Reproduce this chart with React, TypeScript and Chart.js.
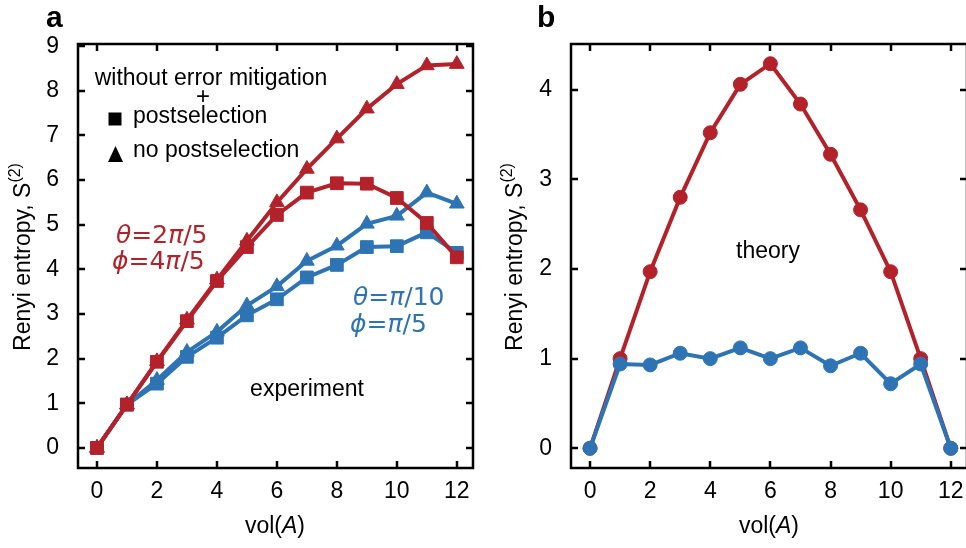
import React, { useEffect, useRef } from 'react';
import { Chart, registerables } from 'chart.js';
Chart.register(...registerables);

// ---------- data ----------
const vol = [0, 1, 2, 3, 4, 5, 6, 7, 8, 9, 10, 11, 12];
// panel a (experiment)
const redPostA = [0, 0.97, 1.93, 2.84, 3.74, 4.5, 5.22, 5.72, 5.93, 5.92, 5.6, 5.04, 4.27];
const redNoPostA = [0, 0.97, 1.94, 2.87, 3.77, 4.64, 5.5, 6.25, 6.93, 7.6, 8.15, 8.57, 8.6];
const bluePostA = [0, 0.97, 1.44, 2.04, 2.47, 2.97, 3.33, 3.82, 4.1, 4.5, 4.52, 4.83, 4.37];
const blueNoPostA = [0, 0.97, 1.52, 2.15, 2.6, 3.19, 3.62, 4.19, 4.53, 5.02, 5.2, 5.72, 5.47];
// panel b (theory)
const redTheoryB = [0, 1, 1.97, 2.8, 3.52, 4.06, 4.29, 3.84, 3.28, 2.66, 1.97, 1, 0];
const blueTheoryB = [0, 0.94, 0.93, 1.06, 1.0, 1.12, 1.0, 1.12, 0.92, 1.06, 0.72, 0.94, 0];
// ticks
const xTickVals = [0, 2, 4, 6, 8, 10, 12];
const yTickValsA = [0, 1, 2, 3, 4, 5, 6, 7, 8, 9];
const yTickValsB = [0, 1, 2, 3, 4];

const RED = '#B3222B';
const BLUE = '#2E74B5';
const FONT = '"Liberation Sans", Arial, sans-serif';
const GFONT = '"DejaVu Sans", sans-serif';

type Seg = { t: string; font: string; dy?: number };
type TextItem = { segs: Seg[]; x: number; y: number; align: 'left' | 'center'; color: string; rotate?: boolean };
type Marker = { kind: 'square' | 'triangle'; x: number; y: number };

function drawSegs(ctx: CanvasRenderingContext2D, item: TextItem, ox: number) {
  const widths = item.segs.map((s) => {
    ctx.font = s.font;
    return ctx.measureText(s.t).width;
  });
  const total = widths.reduce((a, b) => a + b, 0);
  ctx.save();
  ctx.fillStyle = item.color;
  ctx.textBaseline = 'alphabetic';
  ctx.textAlign = 'left';
  let cx: number;
  if (item.rotate) {
    ctx.translate(item.x - ox, item.y);
    ctx.rotate(-Math.PI / 2);
    cx = -total / 2;
    item.segs.forEach((s, i) => {
      ctx.font = s.font;
      ctx.fillText(s.t, cx, 7 + (s.dy || 0));
      cx += widths[i];
    });
  } else {
    cx = item.align === 'center' ? item.x - ox - total / 2 : item.x - ox;
    item.segs.forEach((s, i) => {
      ctx.font = s.font;
      ctx.fillText(s.t, cx, item.y + (s.dy || 0));
      cx += widths[i];
    });
  }
  ctx.restore();
}

function makeDecor(texts: TextItem[], markers: Marker[], ox: number, yTicks: number[]) {
  return {
    id: 'decor',
    afterDraw(chart: any) {
      const ctx: CanvasRenderingContext2D = chart.ctx;
      const { left, right, top, bottom } = chart.chartArea;
      const xs = chart.scales.x;
      const ys = chart.scales.y;
      ctx.save();
      ctx.strokeStyle = '#000';
      ctx.lineWidth = 2.5;
      ctx.strokeRect(left, top, right - left, bottom - top);
      const tl = 7;
      ctx.beginPath();
      xTickVals.forEach((v) => {
        const px = Math.round(xs.getPixelForValue(v));
        ctx.moveTo(px, bottom);
        ctx.lineTo(px, bottom - tl);
        ctx.moveTo(px, top);
        ctx.lineTo(px, top + tl);
      });
      yTicks.forEach((v) => {
        const py = Math.round(ys.getPixelForValue(v));
        ctx.moveTo(left, py);
        ctx.lineTo(left + tl, py);
        ctx.moveTo(right, py);
        ctx.lineTo(right - tl, py);
      });
      ctx.stroke();
      ctx.restore();
      texts.forEach((t) => drawSegs(ctx, t, ox));
      ctx.save();
      ctx.fillStyle = '#000';
      markers.forEach((m) => {
        const x = m.x - ox;
        ctx.beginPath();
        if (m.kind === 'square') {
          ctx.rect(x - 6.5, m.y - 6.5, 13, 13);
        } else {
          ctx.moveTo(x, m.y - 8);
          ctx.lineTo(x + 7.5, m.y + 8);
          ctx.lineTo(x - 7.5, m.y + 8);
          ctx.closePath();
        }
        ctx.fill();
      });
      ctx.restore();
    },
  };
}

function ds(label: string, data: number[], color: string, style: string, radius: number) {
  return {
    label,
    data: vol.map((v, i) => ({ x: v, y: data[i] })),
    borderColor: color,
    backgroundColor: color,
    pointBackgroundColor: color,
    pointBorderColor: color,
    pointBorderWidth: 1,
    pointStyle: style,
    pointRadius: radius,
    borderWidth: 4,
    tension: 0,
  };
}

function baseOptions(yMin: number, yMax: number, yTicks: number[], yWidth: number, padRight: number) {
  const tickFont = { family: FONT, size: 23 };
  return {
    animation: false,
    responsive: false,
    events: [],
    layout: { padding: { top: 44, right: padRight, left: 0, bottom: 0 }, autoPadding: false },
    plugins: { legend: { display: false }, tooltip: { enabled: false }, title: { display: false } },
    scales: {
      x: {
        type: 'linear',
        min: -0.633,
        max: 12.54,
        afterBuildTicks: (s: any) => {
          s.ticks = xTickVals.map((v) => ({ value: v }));
        },
        afterFit: (s: any) => {
          s.height = 80;
        },
        grid: { display: false },
        border: { display: false },
        ticks: { font: tickFont, color: '#000', padding: 2, maxRotation: 0, autoSkip: false },
      },
      y: {
        type: 'linear',
        min: yMin,
        max: yMax,
        afterBuildTicks: (s: any) => {
          s.ticks = yTicks.map((v) => ({ value: v }));
        },
        afterFit: (s: any) => {
          s.width = yWidth;
        },
        grid: { display: false },
        border: { display: false },
        ticks: { font: tickFont, color: '#000', padding: 11, autoSkip: false },
      },
    },
  };
}

const f23 = `23px ${FONT}`;
const f16 = `16px ${FONT}`;
const g25 = `25px ${GFONT}`;
const gi25 = `italic 25px ${GFONT}`;

function yTitle(x: number): TextItem {
  return {
    segs: [
      { t: 'Renyi entropy, S', font: f23 },
      { t: '(2)', font: f16, dy: -10 },
    ],
    x,
    y: 257,
    align: 'center',
    color: '#000',
    rotate: true,
  };
}
function xTitle(x: number): TextItem {
  return {
    segs: [
      { t: 'vol(', font: f23 },
      { t: 'A', font: `italic 23px ${FONT}` },
      { t: ')', font: f23 },
    ],
    x,
    y: 533,
    align: 'center',
    color: '#000',
  };
}

const textsA: TextItem[] = [
  { segs: [{ t: 'a', font: `bold 30px ${FONT}` }], x: 46, y: 27, align: 'left', color: '#000' },
  yTitle(23),
  xTitle(275),
  { segs: [{ t: 'without error mitigation', font: f23 }], x: 211, y: 85, align: 'center', color: '#000' },
  { segs: [{ t: '+', font: `24px ${FONT}` }], x: 203, y: 104, align: 'center', color: '#000' },
  { segs: [{ t: 'postselection', font: f23 }], x: 133, y: 123, align: 'left', color: '#000' },
  { segs: [{ t: 'no postselection', font: f23 }], x: 133, y: 157, align: 'left', color: '#000' },
  {
    segs: [
      { t: 'θ', font: gi25 },
      { t: '=2', font: g25 },
      { t: 'π', font: gi25 },
      { t: '/5', font: g25 },
    ],
    x: 116,
    y: 243,
    align: 'left',
    color: RED,
  },
  {
    segs: [
      { t: 'ϕ', font: gi25 },
      { t: '=4', font: g25 },
      { t: 'π', font: gi25 },
      { t: '/5', font: g25 },
    ],
    x: 112,
    y: 269,
    align: 'left',
    color: RED,
  },
  {
    segs: [
      { t: 'θ', font: gi25 },
      { t: '=', font: g25 },
      { t: 'π', font: gi25 },
      { t: '/10', font: g25 },
    ],
    x: 353,
    y: 305,
    align: 'left',
    color: BLUE,
  },
  {
    segs: [
      { t: 'ϕ', font: gi25 },
      { t: '=', font: g25 },
      { t: 'π', font: gi25 },
      { t: '/5', font: g25 },
    ],
    x: 350,
    y: 332,
    align: 'left',
    color: BLUE,
  },
  { segs: [{ t: 'experiment', font: f23 }], x: 307, y: 396, align: 'center', color: '#000' },
];
const markersA: Marker[] = [
  { kind: 'square', x: 115, y: 119 },
  { kind: 'triangle', x: 115.5, y: 154 },
];

const textsB: TextItem[] = [
  { segs: [{ t: 'b', font: `bold 30px ${FONT}` }], x: 537, y: 27, align: 'left', color: '#000' },
  yTitle(515),
  xTitle(769),
  { segs: [{ t: 'theory', font: f23 }], x: 768, y: 258, align: 'center', color: '#000' },
];

function PanelA() {
  const ref = useRef<HTMLCanvasElement>(null);
  useEffect(() => {
    const chart = new Chart(ref.current as HTMLCanvasElement, {
      type: 'line',
      data: {
        datasets: [
          ds('red postselection', redPostA, RED, 'rect', 9),
          ds('red no postselection', redNoPostA, RED, 'triangle', 8.5),
          ds('blue postselection', bluePostA, BLUE, 'rect', 9),
          ds('blue no postselection', blueNoPostA, BLUE, 'triangle', 8.5),
        ],
      },
      options: baseOptions(-0.45, 9.05, yTickValsA, 78, 10) as any,
      plugins: [makeDecor(textsA, markersA, 0, yTickValsA)],
    });
    return () => chart.destroy();
  }, []);
  return <canvas ref={ref} width={483} height={548} style={{ position: 'absolute', left: 0, top: 0, width: 483, height: 548 }} />;
}

function PanelB() {
  const ref = useRef<HTMLCanvasElement>(null);
  useEffect(() => {
    const chart = new Chart(ref.current as HTMLCanvasElement, {
      type: 'line',
      data: {
        datasets: [
          ds('blue theory', blueTheoryB, BLUE, 'circle', 7),
          ds('red theory', redTheoryB, RED, 'circle', 7),
        ],
      },
      options: baseOptions(-0.22, 4.51, yTickValsB, 88, 3) as any,
      plugins: [makeDecor(textsB, [], 483, yTickValsB)],
    });
    return () => chart.destroy();
  }, []);
  return <canvas ref={ref} width={487} height={548} style={{ position: 'absolute', left: 483, top: 0, width: 487, height: 548 }} />;
}

export default function App() {
  return (
    <div style={{ position: 'fixed', left: 0, top: 0, width: 966, height: 548, overflow: 'hidden', background: '#fff' }}>
      <PanelA />
      <PanelB />
    </div>
  );
}
